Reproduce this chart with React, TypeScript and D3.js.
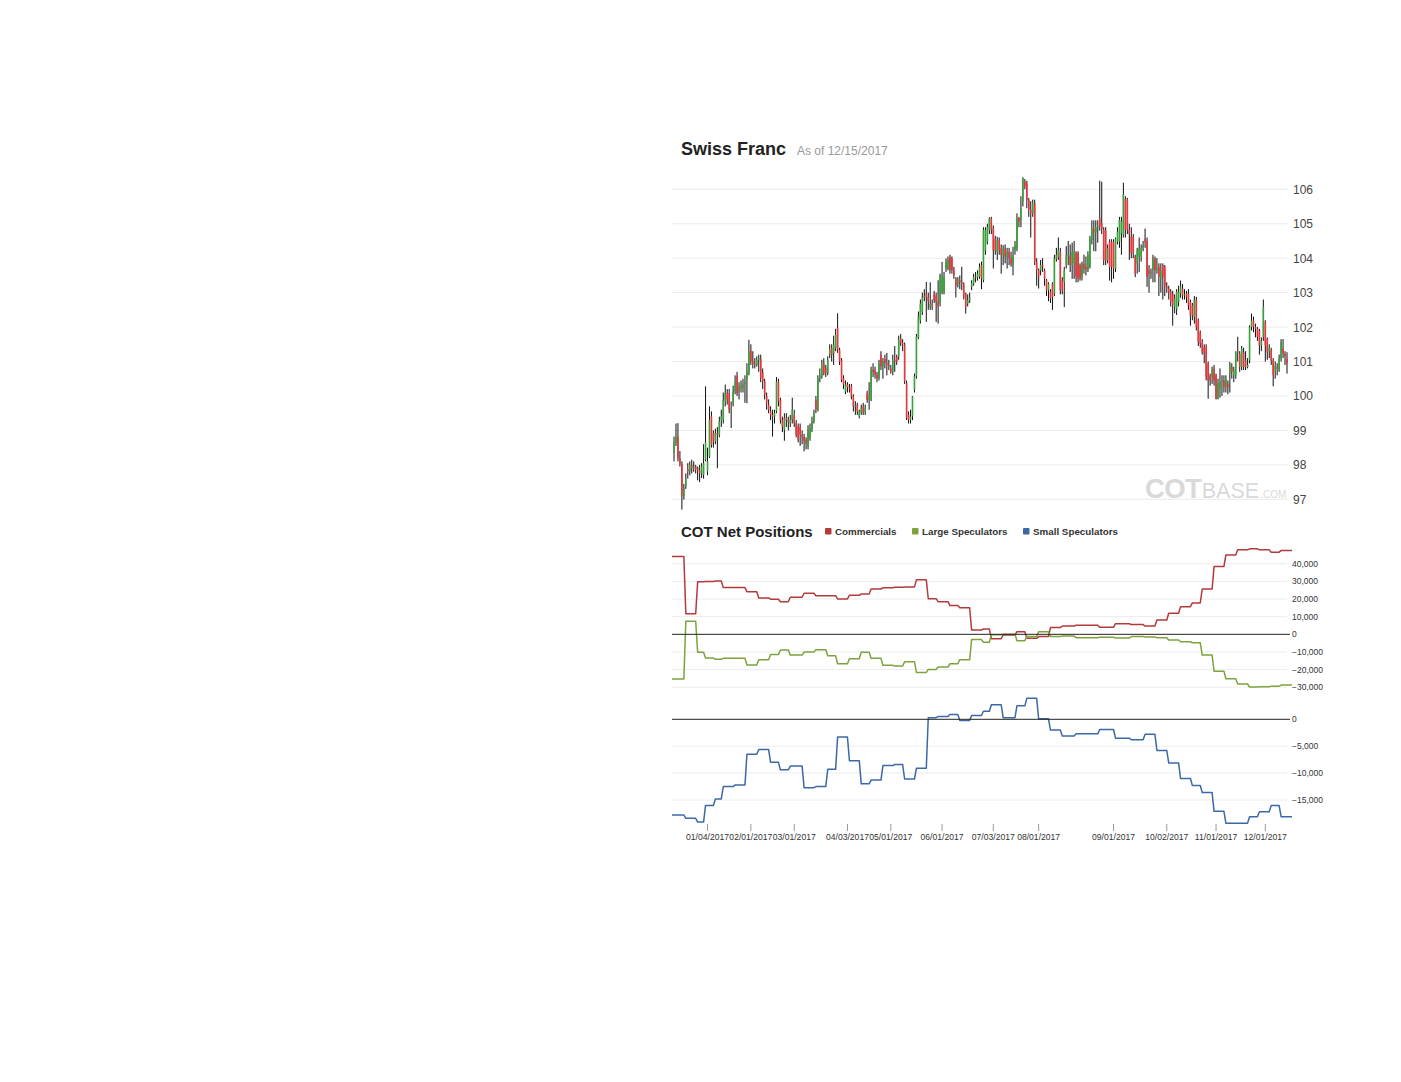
import { useEffect, useRef } from 'react'
import * as d3 from 'd3'

// daily candles [open, high, low, close], one per trading slot (12/15/2016 .. 12/15/2017)
const candles: [number, number, number, number][] = [
  [98.36, 98.82, 98.1, 98.63], [98.63, 99.2, 98.55, 98.82], [98.82, 99.21, 98.1, 98.2], [98.2, 98.4, 97.95, 98.05],
  [98.03, 98.1, 96.7, 97.1], [97.1, 97.45, 96.99, 97.32], [97.39, 97.75, 97.3, 97.59], [97.88, 98.05, 97.6, 97.81],
  [97.81, 98.1, 97.7, 98.0], [98.0, 98.15, 97.75, 97.9], [97.9, 98.1, 97.8, 97.95], [97.95, 98.0, 97.75, 97.86],
  [97.9, 97.95, 97.55, 97.84], [97.84, 98.0, 97.5, 97.75], [97.75, 98.05, 97.62, 97.95], [97.71, 98.6, 97.6, 98.05],
  [98.15, 100.28, 98.1, 98.65], [97.81, 98.5, 97.7, 98.1], [98.24, 99.7, 98.2, 99.31], [99.41, 99.55, 98.5, 98.58],
  [98.92, 99.0, 98.5, 98.68], [98.68, 99.05, 98.6, 98.92], [98.92, 99.1, 97.9, 98.88], [98.87, 99.4, 98.8, 99.26],
  [99.31, 99.6, 99.1, 99.41], [99.31, 100.1, 99.2, 99.89], [99.85, 100.33, 99.7, 100.08], [100.08, 100.2, 99.75, 99.9],
  [100.08, 100.2, 99.5, 99.6], [99.6, 99.84, 99.07, 99.65], [99.79, 100.3, 99.7, 100.13], [100.13, 100.6, 100.05, 100.42],
  [100.59, 100.7, 100.0, 100.08], [100.13, 100.4, 99.9, 100.28], [100.28, 100.45, 100.1, 100.25], [100.23, 100.5, 100.1, 100.33],
  [100.33, 100.6, 99.8, 100.4], [100.47, 100.95, 99.79, 100.71], [100.66, 101.63, 100.6, 101.29], [101.32, 101.5, 100.9, 101.0],
  [101.0, 101.3, 100.8, 100.92], [100.95, 101.1, 100.8, 100.91], [100.91, 101.15, 100.85, 101.05], [101.05, 101.2, 100.7, 101.1],
  [101.07, 101.2, 100.4, 100.52], [100.68, 100.8, 100.2, 100.42], [100.42, 100.5, 99.9, 100.03], [100.0, 100.1, 99.6, 99.79],
  [99.74, 99.9, 99.5, 99.6], [99.55, 99.7, 99.3, 99.45], [99.45, 99.6, 98.82, 99.4], [99.4, 99.6, 99.2, 99.5],
  [99.55, 100.55, 99.5, 100.42], [100.42, 100.5, 99.7, 99.84], [99.89, 99.95, 99.2, 99.31], [99.31, 99.4, 98.95, 99.1],
  [99.02, 99.5, 98.7, 99.36], [99.36, 99.5, 99.1, 99.31], [99.31, 99.4, 99.0, 99.25], [99.21, 99.45, 99.1, 99.31],
  [99.31, 99.95, 99.2, 99.6], [99.45, 99.6, 99.1, 99.21], [99.21, 99.3, 98.8, 98.87], [99.12, 99.2, 98.65, 98.73],
  [99.1, 99.2, 98.55, 98.87], [98.87, 99.0, 98.6, 98.82], [98.82, 98.9, 98.39, 98.7], [98.73, 98.8, 98.45, 98.63],
  [98.53, 99.15, 98.45, 99.02], [98.78, 99.2, 98.7, 99.07], [99.02, 99.4, 98.95, 99.26], [99.26, 99.6, 99.2, 99.5],
  [99.89, 100.0, 99.5, 99.6], [99.6, 100.6, 99.55, 100.52], [100.52, 100.8, 100.4, 100.6], [100.57, 101.05, 100.5, 100.95],
  [100.95, 101.1, 100.6, 100.66], [100.81, 100.9, 100.55, 100.66], [100.66, 101.15, 100.6, 101.05], [101.2, 101.5, 101.1, 101.36],
  [101.39, 101.5, 101.0, 101.2], [101.24, 101.75, 100.9, 101.49], [101.39, 101.95, 101.3, 101.78], [101.97, 102.4, 101.25, 101.34],
  [101.34, 101.4, 100.9, 101.0], [101.05, 101.1, 100.4, 100.47], [100.52, 100.6, 100.2, 100.33], [100.13, 100.45, 100.05, 100.33],
  [100.33, 100.4, 100.1, 100.25], [100.25, 100.35, 100.1, 100.23], [100.28, 100.35, 99.9, 99.99], [99.99, 100.05, 99.55, 99.7],
  [99.7, 99.85, 99.45, 99.72], [99.74, 99.8, 99.45, 99.55], [99.41, 99.6, 99.35, 99.55], [99.52, 99.75, 99.45, 99.65],
  [99.7, 99.8, 99.45, 99.52], [99.52, 99.75, 99.45, 99.65], [100.08, 100.15, 99.8, 99.89], [99.89, 100.4, 99.6, 100.0],
  [99.89, 100.85, 99.85, 100.76], [100.76, 100.95, 100.55, 100.7], [100.76, 100.85, 100.5, 100.62], [100.62, 100.7, 100.4, 100.52],
  [100.52, 101.05, 100.45, 100.95], [101.2, 101.3, 100.75, 100.86], [100.86, 101.1, 100.5, 101.0], [101.07, 101.2, 100.8, 100.95],
  [100.95, 101.25, 100.6, 100.9], [100.9, 101.05, 100.75, 100.88], [100.81, 100.9, 100.65, 100.71], [100.71, 101.2, 100.6, 101.05],
  [101.05, 101.45, 100.7, 101.0], [101.13, 101.2, 100.9, 101.0], [101.15, 101.75, 101.05, 101.63], [101.68, 101.8, 101.45, 101.54],
  [101.54, 101.65, 101.3, 101.5], [101.49, 101.55, 100.35, 100.42], [100.37, 100.45, 99.3, 99.36], [99.45, 99.55, 99.2, 99.31],
  [99.31, 99.6, 99.2, 99.4], [99.41, 100.0, 99.3, 99.99], [100.18, 100.65, 100.1, 100.57], [100.57, 101.8, 100.5, 101.73],
  [101.7, 102.45, 101.65, 102.3], [102.19, 102.8, 102.1, 102.68], [102.44, 103.0, 102.35, 102.87], [102.87, 103.1, 102.75, 102.9],
  [102.97, 103.31, 102.15, 102.87], [102.87, 103.0, 102.5, 102.75], [102.58, 103.3, 102.5, 102.68], [102.68, 102.8, 102.5, 102.6],
  [102.97, 103.05, 102.7, 102.78], [102.92, 103.0, 102.15, 102.73], [102.73, 103.36, 102.1, 102.6], [102.68, 103.55, 102.6, 103.5],
  [103.02, 103.89, 102.95, 103.5], [103.02, 103.6, 102.95, 103.46], [103.7, 103.99, 103.6, 103.89], [103.7, 104.05, 103.65, 103.94],
  [104.04, 104.1, 103.55, 103.65], [103.99, 104.05, 103.55, 103.65], [103.65, 103.75, 103.4, 103.5], [103.41, 103.45, 102.86, 103.21],
  [103.26, 103.45, 103.15, 103.36], [103.36, 103.5, 103.1, 103.3], [103.3, 103.75, 103.07, 103.26], [103.24, 103.3, 102.8, 102.87],
  [102.97, 103.0, 102.39, 102.58], [102.68, 102.95, 102.6, 102.78], [102.78, 103.0, 102.7, 102.85], [103.17, 103.36, 103.07, 103.26],
  [103.26, 103.55, 103.2, 103.46], [103.46, 103.6, 103.3, 103.45], [103.45, 103.65, 103.35, 103.55], [103.46, 103.85, 103.4, 103.75],
  [103.8, 103.9, 103.1, 103.41], [103.36, 104.9, 103.3, 104.82], [104.23, 104.9, 104.1, 104.82], [104.48, 105.0, 104.4, 104.91],
  [104.82, 105.19, 104.7, 105.16], [105.16, 105.2, 104.7, 104.82], [104.86, 104.95, 103.7, 104.23], [104.57, 104.65, 104.1, 104.23],
  [104.18, 104.62, 103.95, 104.52], [104.52, 104.6, 104.1, 104.23], [104.3, 104.4, 103.55, 104.1], [104.09, 104.38, 103.8, 104.28],
  [104.28, 104.4, 103.85, 104.04], [104.04, 104.3, 103.7, 104.18], [104.18, 104.3, 103.8, 104.0], [103.99, 104.19, 103.75, 103.84],
  [103.8, 104.33, 103.5, 104.09], [104.23, 104.5, 104.1, 104.38], [104.28, 105.3, 104.2, 105.16], [105.16, 105.2, 104.9, 105.06],
  [105.11, 105.8, 104.9, 105.45], [105.64, 106.35, 105.5, 106.32], [106.22, 106.3, 106.0, 106.08], [106.17, 106.25, 105.45, 105.69],
  [105.69, 105.75, 105.2, 105.4], [105.4, 105.65, 104.6, 105.3], [105.3, 105.7, 105.2, 105.6], [105.59, 105.7, 103.8, 103.89],
  [103.89, 104.0, 103.2, 103.65], [103.65, 103.7, 103.12, 103.46], [103.65, 103.95, 103.5, 103.8], [103.8, 104.0, 103.6, 103.75],
  [103.65, 103.7, 103.2, 103.41], [103.36, 103.4, 102.9, 103.07], [103.07, 103.3, 102.75, 103.26], [103.02, 103.1, 102.7, 102.83],
  [103.26, 103.3, 102.5, 102.87], [102.97, 104.1, 102.9, 103.99], [103.99, 104.3, 103.9, 104.1], [104.04, 104.6, 103.95, 104.23],
  [104.18, 104.3, 102.95, 103.07], [103.36, 103.45, 102.95, 103.07], [103.31, 103.75, 102.58, 103.65], [103.8, 104.35, 103.7, 104.09],
  [104.09, 104.5, 103.8, 104.1], [104.09, 104.4, 103.6, 103.8], [103.8, 104.45, 103.4, 104.18], [103.84, 104.5, 103.4, 104.18],
  [104.16, 104.2, 103.3, 103.46], [104.14, 104.2, 103.3, 103.41], [103.8, 103.85, 103.35, 103.41], [103.46, 103.9, 103.35, 103.84],
  [103.84, 104.1, 103.55, 103.7], [103.75, 104.05, 103.5, 103.67], [103.65, 104.2, 103.6, 104.09], [103.75, 104.65, 103.7, 104.57],
  [104.52, 105.1, 104.4, 104.86], [104.86, 105.1, 104.2, 104.75], [104.75, 105.1, 104.2, 104.9], [104.9, 105.1, 104.45, 104.95],
  [105.16, 106.25, 104.8, 104.91], [105.01, 106.22, 104.7, 104.86], [104.83, 104.9, 103.8, 103.94], [104.82, 104.9, 103.8, 103.94],
  [103.94, 104.4, 103.85, 104.28], [104.48, 104.55, 103.35, 103.75], [104.48, 104.55, 103.3, 103.75], [104.48, 104.55, 103.4, 103.7],
  [103.7, 104.6, 103.6, 104.57], [104.48, 104.9, 104.4, 104.77], [104.48, 105.2, 104.3, 105.11], [104.72, 105.2, 104.1, 105.06],
  [104.67, 106.19, 104.6, 105.86], [105.71, 105.8, 104.6, 104.82], [105.71, 105.75, 104.7, 104.82], [104.82, 105.0, 103.95, 104.7],
  [104.62, 104.9, 104.0, 104.14], [104.62, 104.7, 104.0, 104.14], [104.04, 104.1, 103.45, 103.55], [103.84, 104.3, 103.55, 104.23],
  [104.04, 104.6, 103.6, 104.28], [104.04, 104.4, 103.9, 104.28], [104.28, 104.5, 104.2, 104.35], [104.57, 104.86, 104.3, 104.48],
  [104.5, 104.6, 103.17, 103.46], [103.65, 103.8, 103.0, 103.55], [103.55, 103.7, 103.4, 103.6], [103.65, 104.1, 103.3, 103.99],
  [103.99, 104.05, 103.3, 103.65], [103.65, 104.0, 103.55, 103.7], [103.75, 103.85, 102.9, 103.46], [103.41, 103.85, 103.0, 103.65],
  [103.8, 103.85, 102.8, 103.46], [103.75, 103.8, 102.9, 103.17], [103.17, 103.3, 103.0, 103.12], [103.12, 103.2, 102.8, 103.0],
  [103.02, 103.1, 102.6, 102.73], [102.97, 103.05, 102.04, 102.63], [102.58, 102.95, 102.4, 102.83], [102.53, 103.1, 102.35, 103.02],
  [102.73, 103.2, 102.6, 103.02], [102.97, 103.35, 102.85, 103.17], [103.12, 103.25, 102.8, 102.92], [102.92, 103.1, 102.8, 102.95],
  [102.97, 103.05, 102.7, 102.87], [102.97, 103.1, 102.5, 102.63], [102.73, 102.8, 102.04, 102.34], [102.63, 102.7, 102.2, 102.34],
  [102.29, 102.9, 102.1, 102.78], [102.78, 102.88, 101.9, 102.0], [102.19, 102.25, 101.45, 101.56], [101.85, 101.9, 101.4, 101.52],
  [101.56, 101.65, 101.2, 101.27], [101.42, 101.5, 100.95, 101.23], [101.42, 101.5, 100.45, 100.55], [100.94, 101.0, 99.92, 100.45],
  [100.6, 100.65, 100.3, 100.45], [100.55, 100.85, 100.35, 100.79], [100.79, 100.9, 100.3, 100.45], [100.6, 100.65, 99.9, 99.92],
  [99.92, 100.5, 99.9, 100.36], [100.21, 100.8, 99.95, 100.4], [100.4, 100.6, 100.0, 100.45], [100.45, 100.6, 100.1, 100.26],
  [100.26, 100.6, 100.1, 100.5], [100.36, 100.45, 100.05, 100.24], [100.65, 100.99, 100.1, 100.89], [100.84, 100.95, 100.5, 100.7],
  [100.6, 100.85, 100.4, 100.74], [100.6, 101.3, 100.5, 101.27], [101.3, 101.72, 101.0, 101.27], [101.23, 101.3, 100.7, 100.84],
  [100.84, 101.45, 100.75, 101.37], [101.27, 101.4, 100.75, 100.84], [101.03, 101.3, 100.75, 100.84], [100.84, 101.1, 100.8, 100.9],
  [101.03, 102.05, 100.95, 102.0], [102.0, 102.39, 101.9, 102.19], [102.19, 102.3, 101.85, 102.0], [102.0, 102.1, 101.7, 101.95],
  [101.95, 102.0, 101.6, 101.71], [101.9, 101.95, 101.2, 101.47], [101.47, 101.7, 101.3, 101.6], [101.71, 102.8, 101.6, 102.58],
  [102.15, 102.2, 101.0, 101.47], [101.66, 101.7, 101.05, 101.27], [101.3, 101.5, 101.1, 101.4], [101.34, 101.4, 100.9, 101.03],
  [101.03, 101.1, 100.28, 100.6], [100.74, 101.0, 100.5, 100.89], [100.84, 100.95, 100.6, 100.79], [100.74, 101.2, 100.7, 101.08],
  [101.08, 101.65, 101.0, 101.56], [101.37, 101.65, 101.1, 101.23], [101.23, 101.3, 100.9, 101.15], [101.08, 101.27, 100.65, 100.94],
]

// weekly COT reports: slot at which each report takes effect
const cotStarts = [
  -1, 6, 12, 16, 21, 25, 31, 37, 43, 49, 54, 59, 66, 72, 78, 83, 89, 95, 100, 106,
  112, 117, 123, 129, 134, 140, 145, 151, 157, 161, 167, 174, 179, 185, 191, 197, 204, 210, 216, 224,
  232, 239, 245, 251, 257, 263, 268, 274, 280, 286, 292, 297, 303, 308,
]
const commercials = [
  44100, 11700, 29800, 30000, 30200, 26500, 26500, 24200, 20600, 19900, 18500, 21000, 23300, 21900, 21900, 20100, 22100, 22900,
  25700, 26400, 26700, 26900, 30900, 20200, 18500, 16300, 15100, 2400, 3000, -2500, -400, 1500, -2300, -1300, 3800, 4700,
  5100, 5100, 4000, 6000, 5500, 4700, 8100, 11900, 15700, 17800, 25700, 38400, 45000, 47900, 48500, 47900, 46600, 47500,
]
const largeSpecs = [
  -25400, 7400, -10200, -13500, -14200, -13600, -13600, -17400, -14400, -11400, -8900, -11800, -10100, -8700, -12200, -16700,
  -13900, -10200, -13600, -17600, -18000, -15600, -21600, -19900, -18600, -16700, -14400, -3000, -4500, -200, 0, -3600, -1300,
  1500, -1300, -1000, -1900, -1900, -1700, -2100, -1300, -1500, -1900, -3200, -4200, -4800, -11800, -20900, -25200, -28200,
  -29900, -29700, -29400, -28800,
]
const smallSpecs = [
  -17800, -18400, -19100, -16000, -14800, -12500, -12200, -6500, -5600, -8000, -9400, -8700, -12700, -12500, -9300, -3300,
  -7700, -12000, -11300, -8600, -8400, -11100, -9100, 300, 500, 900, -200, 700, 1500, 2700, 300, 2500, 3900, 100, -2000,
  -3100, -2700, -2700, -1900, -3500, -3800, -2800, -5800, -8100, -11000, -12300, -13600, -17100, -19300, -19300, -18100,
  -17200, -16000, -18100,
]

const priceTicks = [97, 98, 99, 100, 101, 102, 103, 104, 105, 106]
const cotTicks = [-30000, -20000, -10000, 0, 10000, 20000, 30000, 40000]
const smallTicks = [-15000, -10000, -5000, 0]
const dateLabels = ['01/04/2017', '02/01/2017', '03/01/2017', '04/03/2017', '05/01/2017', '06/01/2017', '07/03/2017', '08/01/2017', '09/01/2017', '10/02/2017', '11/01/2017', '12/01/2017']
const dateSlots = [17, 39, 61, 88, 110, 136, 162, 185, 223, 250, 275, 300]

const series = [
  { name: 'Commercials', values: commercials, color: '#b23a3b' },
  { name: 'Large Speculators', values: largeSpecs, color: '#7da23e' },
  { name: 'Small Speculators', values: smallSpecs, color: '#3d68a8' },
]

export default function App() {
  const ref = useRef<SVGSVGElement | null>(null)

  useEffect(() => {
    const svg = d3.select(ref.current)
    svg.selectAll('*').remove()
    svg.attr('font-family', '"Liberation Sans", Arial, Helvetica, sans-serif')

    const left = 672
    const right = 1288
    const x = d3.scaleLinear().domain([0, candles.length - 1]).range([674, 1287])
    const yPrice = d3.scaleLinear().domain([97, 106]).range([499.3, 189.3])
    const yCot = d3.scaleLinear().domain([-30000, 40000]).range([687.2, 563.8])
    const ySmall = d3.scaleLinear().domain([-15000, 0]).range([800, 719.3])

    // titles
    svg.append('text').attr('x', 681).attr('y', 155).attr('font-size', 18).attr('font-weight', 'bold').attr('fill', '#222').text('Swiss Franc')
    svg.append('text').attr('x', 797).attr('y', 155).attr('font-size', 12).attr('fill', '#999').text('As of 12/15/2017')

    // price grid + labels
    priceTicks.forEach((t) => {
      svg.append('line').attr('x1', left).attr('x2', right).attr('y1', yPrice(t)).attr('y2', yPrice(t)).attr('stroke', '#ebebeb')
      svg.append('text').attr('x', 1293).attr('y', yPrice(t) + 4.5).attr('font-size', 12).attr('fill', '#444').text(t)
    })

    // watermark
    const wm = svg.append('text').attr('x', 1145).attr('y', 498).attr('fill', '#d9d9d9')
    wm.append('tspan').attr('font-size', 27.5).attr('font-weight', 'bold').attr('letter-spacing', -0.6).text('COT')
    wm.append('tspan').attr('font-size', 21.5).attr('dx', 0.5).text('BASE')
    wm.append('tspan').attr('font-size', 10).attr('dx', 1).text('.COM')

    // candles
    const cg = svg.append('g')
    candles.forEach(([o, h, l, c], i) => {
      const cx = x(i)
      cg.append('line').attr('x1', cx).attr('x2', cx).attr('y1', yPrice(h)).attr('y2', yPrice(l)).attr('stroke', '#111').attr('stroke-width', 1)
      const top = yPrice(Math.max(o, c))
      const hgt = Math.max(1, Math.abs(yPrice(o) - yPrice(c)))
      cg.append('rect').attr('x', cx - 0.8).attr('y', top).attr('width', 1.6).attr('height', hgt)
        .attr('fill', c >= o ? '#3ba23b' : '#e8363b')
    })

    // COT header + legend
    svg.append('text').attr('x', 681).attr('y', 537).attr('font-size', 15).attr('font-weight', 'bold').attr('fill', '#222').text('COT Net Positions')
    const legendX = [825, 912, 1023]
    series.forEach((s, i) => {
      svg.append('rect').attr('x', legendX[i]).attr('y', 528).attr('width', 6.5).attr('height', 6.5).attr('rx', 1).attr('fill', s.color)
      svg.append('text').attr('x', legendX[i] + 10).attr('y', 535).attr('font-size', 9.8).attr('font-weight', 'bold').attr('fill', '#333').text(s.name)
    })

    // COT grids
    const fmt = d3.format(',')
    cotTicks.forEach((t) => {
      if (t !== 0) svg.append('line').attr('x1', left).attr('x2', right - 1).attr('y1', yCot(t)).attr('y2', yCot(t)).attr('stroke', '#ececec')
      svg.append('text').attr('x', 1292).attr('y', yCot(t) + 3).attr('font-size', 8.5).attr('fill', '#333').text(fmt(t))
    })
    smallTicks.forEach((t) => {
      if (t !== 0) svg.append('line').attr('x1', left).attr('x2', right - 1).attr('y1', ySmall(t)).attr('y2', ySmall(t)).attr('stroke', '#ececec')
      svg.append('text').attr('x', 1292).attr('y', ySmall(t) + 3).attr('font-size', 8.5).attr('fill', '#333').text(fmt(t))
    })

    // weekly values held daily, stepping over one slot
    const endSlot = candles.length + 1.5
    const line = (y: d3.ScaleLinear<number, number>) =>
      d3.line<[number, number]>().x((d) => x(d[0])).y((d) => y(d[1]))
    series.forEach((s, i) => {
      const pts: [number, number][] = []
      s.values.forEach((v, j) => {
        const next = j < s.values.length - 1 ? cotStarts[j + 1] - 1 : endSlot
        pts.push([cotStarts[j], v], [next, v])
      })
      const yS = i < 2 ? yCot : ySmall
      svg.append('path').attr('d', line(yS)(pts)).attr('fill', 'none').attr('stroke', s.color)
        .attr('stroke-width', 1.5).attr('stroke-linejoin', 'round')
    })

    // zero lines
    svg.append('line').attr('x1', left).attr('x2', 1290).attr('y1', yCot(0)).attr('y2', yCot(0)).attr('stroke', '#222')
    svg.append('line').attr('x1', left).attr('x2', 1290).attr('y1', ySmall(0)).attr('y2', ySmall(0)).attr('stroke', '#222')

    // x axis ticks
    dateSlots.forEach((s, i) => {
      svg.append('line').attr('x1', x(s)).attr('x2', x(s)).attr('y1', 824).attr('y2', 831).attr('stroke', '#999')
      svg.append('text').attr('x', x(s)).attr('y', 840).attr('font-size', 8.6).attr('text-anchor', 'middle').attr('fill', '#333').text(dateLabels[i])
    })
  }, [])

  return <svg ref={ref} width={1401} height={1082} style={{ position: 'absolute', left: 0, top: 0, display: 'block' }} />
}
